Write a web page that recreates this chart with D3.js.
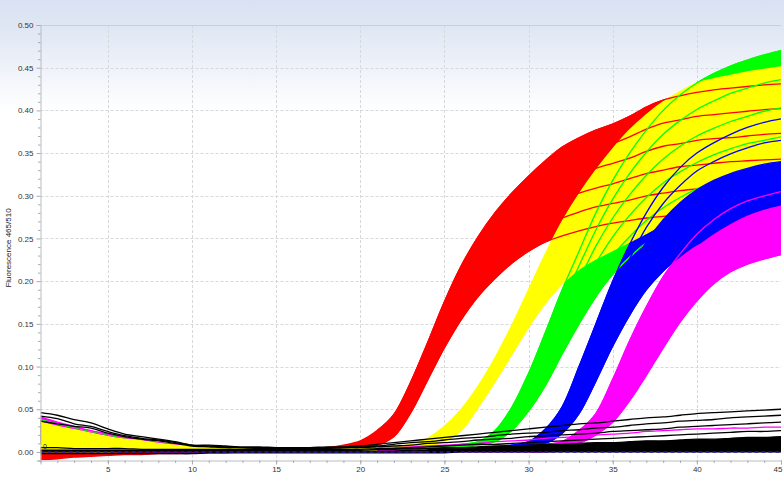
<!DOCTYPE html>
<html><head><meta charset="utf-8">
<script src="https://cdn.jsdelivr.net/npm/d3@7"></script>
<style>
body{margin:0;background:#fff}
svg{display:block}
text{font-family:"Liberation Sans",Arial,sans-serif}
</style>
</head><body>
<svg id="chart" width="784" height="478"></svg>
<script>
// ---------- data ----------
const cycles = [1,2,3,4,5,6,7,8,9,10,11,12,13,14,15,16,17,18,19,20,21,22,23,24,25,26,27,28,29,30,31,32,33,34,35,36,37,38,39,40,41,42,43,44,45];
const xTickLabels = [5,10,15,20,25,30,35,40,45];
const yTickLabels = [0,0.05,0.10,0.15,0.20,0.25,0.30,0.35,0.40,0.45,0.50];

const red1 = [.004,.004,.003,.003,.003,.003,.003,.002,.002,.002,.002,.002,.002,.002,.003,.003,.004,.005,.008,.013,.025,.044,.082,.128,.176,.218,.252,.280,.303,.323,.341,.357,.368,.377,.384,.393,.404,.412,.417,.421,.424,.426,.428,.430,.431];
const red2 = [.000,.000,.001,.001,.001,.001,.001,.002,.002,.002,.002,.002,.002,.002,.002,.003,.003,.004,.007,.011,.022,.039,.075,.118,.167,.211,.243,.269,.289,.306,.322,.336,.346,.354,.361,.369,.378,.385,.389,.393,.395,.397,.399,.401,.402];
const red3 = [-.004,-.003,-.003,-.002,-.001,-.001,-.001,.000,.000,.000,.001,.001,.001,.001,.001,.002,.003,.004,.006,.010,.018,.034,.067,.108,.157,.198,.229,.253,.272,.288,.303,.315,.324,.332,.338,.344,.352,.358,.361,.365,.367,.368,.370,.372,.373];
const red4 = [.002,.002,.002,.002,.001,.001,.001,.001,.001,.001,.001,.001,.001,.001,.001,.002,.002,.003,.005,.008,.015,.028,.060,.098,.146,.186,.214,.236,.255,.271,.284,.295,.303,.309,.314,.320,.326,.330,.334,.336,.338,.340,.341,.342,.343];
const red5 = [-.007,-.006,-.005,-.004,-.003,-.002,-.001,-.001,.000,.000,.000,.000,.001,.001,.001,.002,.002,.003,.004,.007,.011,.023,.052,.088,.136,.173,.200,.220,.238,.253,.265,.274,.281,.287,.291,.295,.300,.303,.306,.308,.310,.311,.312,.313,.314];
const red6 = [-.009,-.008,-.006,-.005,-.004,-.003,-.003,-.002,-.002,-.001,-.001,-.001,.000,.000,.000,.001,.001,.002,.003,.005,.008,.018,.046,.084,.122,.155,.182,.203,.221,.235,.246,.253,.259,.264,.268,.271,.274,.276,.278,.280,.281,.282,.283,.284,.285];

const yellow1 = [.035,.030,.026,.022,.018,.015,.013,.010,.008,.007,.006,.005,.005,.004,.004,.004,.004,.003,.003,.004,.004,.006,.009,.016,.030,.050,.077,.110,.148,.190,.232,.270,.302,.330,.355,.377,.395,.410,.422,.432,.437,.441,.445,.448,.451];
const yellow2 = [.028,.024,.021,.018,.015,.013,.011,.009,.007,.006,.005,.005,.004,.004,.004,.004,.004,.003,.003,.004,.004,.005,.008,.014,.026,.045,.073,.102,.142,.183,.225,.259,.287,.309,.331,.351,.367,.381,.393,.403,.408,.412,.416,.419,.422];
const yellow3 = [.020,.018,.015,.013,.011,.010,.008,.007,.006,.005,.005,.004,.004,.004,.004,.003,.003,.003,.003,.003,.003,.005,.007,.012,.023,.040,.068,.097,.134,.174,.215,.245,.270,.289,.307,.325,.339,.353,.364,.373,.379,.383,.387,.390,.393];
const yellow4 = [.012,.011,.010,.008,.007,.006,.006,.005,.005,.004,.004,.004,.004,.003,.003,.003,.003,.003,.003,.003,.003,.004,.006,.011,.019,.035,.062,.091,.126,.164,.204,.232,.252,.268,.284,.298,.312,.324,.335,.344,.350,.355,.359,.362,.365];
const yellow5 = [.006,.005,.005,.004,.004,.004,.003,.003,.003,.003,.002,.002,.002,.002,.002,.002,.002,.002,.002,.002,.002,.004,.005,.009,.016,.030,.057,.086,.118,.155,.194,.218,.235,.248,.260,.272,.284,.296,.306,.314,.321,.326,.330,.333,.336];
const yellow6 = [.000,.000,.000,.000,.000,.001,.001,.001,.001,.001,.001,.001,.001,.001,.001,.001,.001,.001,.001,.002,.002,.003,.004,.007,.012,.025,.052,.082,.114,.146,.174,.197,.214,.226,.236,.246,.256,.267,.277,.285,.292,.297,.301,.304,.307];

const green1 = [.038,.033,.028,.024,.020,.016,.014,.011,.009,.007,.006,.006,.005,.004,.004,.004,.004,.003,.003,.003,.003,.004,.005,.006,.007,.009,.012,.025,.052,.092,.140,.190,.235,.280,.318,.350,.377,.400,.418,.432,.443,.452,.459,.465,.470];
const green2 = [.030,.026,.022,.019,.016,.013,.011,.009,.008,.006,.005,.005,.004,.004,.004,.004,.004,.003,.003,.003,.003,.004,.005,.005,.006,.008,.011,.022,.047,.083,.128,.175,.218,.260,.296,.326,.351,.372,.388,.401,.411,.420,.426,.432,.436];
const green3 = [.026,.023,.020,.017,.014,.012,.010,.008,.007,.006,.005,.005,.004,.004,.004,.004,.004,.003,.003,.003,.003,.003,.004,.005,.006,.007,.010,.020,.041,.074,.115,.160,.201,.241,.274,.301,.324,.343,.358,.370,.379,.387,.393,.399,.403];
const green4 = [.022,.019,.017,.014,.012,.010,.009,.007,.006,.005,.005,.004,.004,.004,.004,.003,.003,.003,.003,.003,.003,.003,.004,.004,.005,.007,.010,.017,.036,.066,.103,.145,.184,.221,.252,.277,.298,.315,.328,.339,.348,.355,.361,.365,.369];
const green5 = [.018,.016,.014,.012,.010,.008,.007,.006,.005,.004,.003,.003,.003,.003,.003,.002,.002,.002,.002,.002,.002,.002,.003,.004,.005,.006,.009,.015,.030,.057,.090,.130,.167,.202,.230,.252,.271,.286,.298,.308,.316,.322,.328,.332,.336];
const green6 = [.010,.009,.008,.007,.006,.005,.004,.004,.003,.003,.003,.003,.002,.002,.002,.002,.002,.002,.002,.002,.002,.002,.003,.003,.004,.005,.008,.012,.025,.048,.078,.115,.150,.182,.208,.228,.245,.258,.268,.277,.284,.290,.295,.299,.302];

const blue1 = [.034,.029,.025,.022,.018,.015,.012,.010,.008,.007,.006,.005,.005,.004,.004,.004,.004,.003,.003,.003,.003,.003,.003,.003,.004,.004,.005,.006,.008,.012,.027,.053,.100,.150,.200,.243,.280,.310,.333,.350,.362,.372,.380,.386,.390];
const blue2 = [.028,.024,.021,.018,.015,.013,.011,.009,.007,.006,.005,.005,.004,.004,.004,.004,.004,.003,.003,.003,.003,.003,.003,.003,.004,.004,.005,.005,.007,.011,.024,.047,.089,.137,.185,.226,.263,.291,.312,.329,.340,.349,.356,.362,.365];
const blue3 = [.024,.021,.018,.016,.013,.011,.009,.008,.007,.006,.005,.005,.004,.004,.004,.003,.003,.003,.003,.003,.003,.003,.003,.003,.003,.003,.004,.005,.006,.010,.020,.041,.078,.123,.170,.210,.246,.272,.292,.307,.318,.326,.332,.337,.340];
const blue4 = [.020,.018,.015,.013,.011,.010,.008,.007,.006,.005,.005,.004,.004,.004,.004,.003,.003,.003,.003,.003,.003,.003,.003,.003,.003,.003,.004,.004,.006,.008,.017,.034,.067,.110,.154,.193,.229,.253,.271,.286,.295,.303,.309,.313,.316];
const blue5 = [.016,.014,.012,.010,.009,.007,.006,.005,.004,.004,.003,.003,.003,.003,.002,.002,.002,.002,.002,.002,.002,.002,.002,.002,.002,.002,.003,.004,.005,.007,.013,.028,.056,.096,.139,.177,.212,.234,.251,.264,.273,.280,.285,.288,.290];
const blue6 = [.012,.011,.009,.008,.007,.006,.005,.004,.004,.003,.003,.003,.002,.002,.002,.002,.002,.002,.002,.002,.002,.002,.002,.002,.002,.002,.003,.003,.004,.006,.010,.022,.045,.083,.124,.160,.190,.212,.229,.243,.251,.257,.261,.264,.266];

const magenta1 = [.041,.035,.030,.025,.021,.017,.014,.011,.009,.007,.006,.005,.004,.004,.003,.003,.003,.002,.002,.002,.002,.002,.002,.002,.002,.002,.003,.004,.005,.007,.009,.012,.025,.045,.085,.130,.170,.205,.232,.255,.272,.285,.294,.300,.305];
const magenta2 = [.036,.031,.027,.022,.018,.015,.012,.010,.008,.006,.005,.004,.004,.003,.003,.003,.003,.002,.002,.002,.002,.002,.002,.002,.002,.002,.003,.004,.004,.006,.008,.011,.022,.040,.075,.116,.154,.188,.216,.239,.254,.266,.276,.283,.288];
const magenta3 = [.030,.026,.022,.019,.015,.013,.010,.008,.007,.005,.005,.004,.003,.003,.003,.003,.003,.002,.002,.002,.002,.002,.002,.002,.002,.002,.003,.003,.004,.005,.007,.009,.019,.035,.065,.102,.138,.172,.200,.224,.240,.253,.262,.269,.273];
const magenta4 = [.025,.022,.019,.016,.013,.011,.009,.007,.006,.005,.004,.004,.003,.003,.003,.003,.003,.002,.002,.002,.002,.002,.002,.002,.002,.002,.002,.003,.003,.004,.005,.008,.016,.030,.055,.088,.122,.155,.184,.208,.225,.239,.249,.256,.261];
const magenta5 = [.018,.016,.014,.012,.010,.008,.007,.006,.005,.004,.003,.003,.003,.003,.003,.002,.002,.002,.002,.002,.002,.002,.002,.002,.002,.002,.002,.002,.003,.003,.004,.006,.013,.025,.045,.074,.106,.139,.168,.193,.211,.225,.234,.241,.246];
const magenta6 = [.010,.009,.008,.007,.006,.005,.004,.004,.003,.003,.003,.003,.002,.002,.002,.002,.002,.002,.002,.002,.002,.002,.002,.002,.002,.002,.002,.002,.002,.002,.003,.005,.010,.020,.035,.060,.090,.122,.152,.177,.197,.211,.220,.226,.231];
const magenta7 = [.003,.003,.002,.002,.001,.001,.001,.000,.000,.000,.000,.000,.000,.000,.000,.000,.000,.000,.000,.000,.000,.000,.000,.000,.000,.000,.000,.000,.000,.000,.000,.001,.001,.001,.001,.001,.001,.001,.001,.001,.001,.001,.001,.001,.001];
const magenta8 = [.008,.007,.006,.005,.004,.004,.003,.003,.003,.003,.003,.003,.003,.003,.003,.003,.003,.003,.003,.004,.004,.005,.006,.007,.008,.009,.010,.012,.013,.014,.016,.017,.018,.020,.021,.022,.024,.025,.026,.027,.027,.028,.028,.029,.029];

const black1 = [.046,.043,.038,.034,.027,.021,.018,.015,.012,.008,.008,.007,.006,.006,.005,.005,.005,.006,.006,.007,.009,.011,.013,.015,.017,.019,.021,.023,.025,.027,.029,.031,.033,.034,.036,.038,.040,.041,.043,.045,.046,.047,.048,.049,.050];
const black2 = [.042,.039,.033,.030,.024,.019,.016,.014,.011,.008,.007,.006,.005,.005,.005,.004,.004,.005,.005,.006,.007,.009,.011,.012,.014,.016,.017,.019,.021,.022,.023,.025,.026,.028,.029,.031,.033,.034,.036,.037,.038,.040,.041,.042,.043];
const black3 = [.036,.033,.030,.028,.022,.018,.015,.013,.010,.007,.006,.005,.005,.004,.004,.004,.004,.004,.005,.005,.006,.007,.008,.010,.011,.012,.014,.015,.016,.018,.019,.020,.021,.022,.024,.025,.026,.027,.029,.030,.031,.032,.033,.034,.035];
const black4 = [.005,.005,.004,.004,.004,.004,.003,.003,.003,.003,.003,.003,.003,.003,.003,.003,.003,.003,.003,.003,.004,.004,.005,.006,.007,.008,.009,.009,.010,.011,.012,.013,.014,.015,.016,.017,.018,.019,.020,.021,.022,.023,.024,.024,.025];
const black5 = [.002,.002,.002,.002,.002,.002,.002,.002,.002,.002,.002,.002,.002,.002,.002,.002,.002,.002,.002,.002,.003,.003,.004,.004,.005,.005,.006,.007,.007,.008,.009,.009,.010,.011,.011,.012,.013,.013,.014,.015,.015,.016,.017,.017,.018];
const black6 = [.001,.001,.001,.001,.001,.001,.001,.001,.001,.001,.001,.001,.001,.001,.001,.001,.001,.001,.001,.001,.001,.001,.002,.002,.003,.003,.003,.004,.004,.004,.005,.005,.006,.006,.007,.007,.008,.008,.009,.009,.010,.010,.011,.011,.012];
const black7 = [.000,.000,.000,.000,.000,.000,.000,.000,.000,.000,.000,.000,.000,.000,.000,.000,.000,.000,.000,.000,.000,.000,.000,.000,.000,.001,.001,.001,.002,.002,.002,.002,.003,.003,.003,.003,.004,.004,.004,.004,.004,.005,.005,.005,.005];
const black8 = [-.002,-.002,-.002,-.002,-.002,-.002,-.002,-.002,-.002,-.002,-.001,-.001,-.001,-.001,-.001,-.001,-.001,-.001,-.001,-.001,-.001,-.001,-.001,-.001,-.001,.000,.000,.000,.000,.000,.000,.000,.000,.000,.000,.000,.000,.000,.000,.000,.000,.000,.000,.000,.000];

// ---------- styling / grouping ----------
const COL = {red:"#ff0000", green:"#00ff00", blue:"#0000ff", magenta:"#ff00ff", yellow:"#ffff00", black:"#000000"};
const redCurves = [red1,red2,red3,red4,red5,red6];
const greenCurves = [green1,green2,green3,green4,green5,green6];
const blueCurves = [blue1,blue2,blue3,blue4,blue5,blue6];
const magentaCurves = [magenta1,magenta2,magenta3,magenta4,magenta5,magenta6];
const yellowCurves = [yellow1,yellow2,yellow3,yellow4,yellow5,yellow6];
const blackCurves = [black1,black2,black3,black4,black5,black6,black7,black8];

const W = 784, H = 478;
const svg = d3.select("#chart");
const x = d3.scaleLinear().domain([1,45]).range([40.5,781]);
const y = d3.scaleLinear().domain([-0.01,0.5]).range([460.5,25]);

// background gradient
const defs = svg.append("defs");
const grad = defs.append("linearGradient").attr("id","bg").attr("x1",0).attr("x2",0).attr("y1",0).attr("y2",1);
grad.append("stop").attr("offset","0%").attr("stop-color","#d9e2f3");
grad.append("stop").attr("offset","6%").attr("stop-color","#e0e7f4");
grad.append("stop").attr("offset","14%").attr("stop-color","#eef2f9");
grad.append("stop").attr("offset","23%").attr("stop-color","#ffffff");
grad.append("stop").attr("offset","100%").attr("stop-color","#ffffff");
svg.append("rect").attr("width",W).attr("height",H).attr("fill","url(#bg)");

defs.append("clipPath").attr("id","plot").append("rect")
  .attr("x",x(1)).attr("y",y(0.5)).attr("width",x(45)-x(1)).attr("height",y(-0.01)-y(0.5));
defs.append("clipPath").attr("id","late").append("rect")
  .attr("x",x(21)).attr("y",y(0.5)).attr("width",x(45)-x(21)).attr("height",y(-0.01)-y(0.5));

// grid
const grid = svg.append("g");
grid.selectAll("line.h").data(yTickLabels.filter(v=>v>0 && v<0.5)).join("line")
  .attr("x1",x(1)).attr("x2",x(45)).attr("y1",d=>Math.round(y(d))+0.5).attr("y2",d=>Math.round(y(d))+0.5)
  .attr("stroke","#d6d8dc").attr("stroke-dasharray","3,2");
grid.selectAll("line.v").data(xTickLabels.filter(v=>v<45)).join("line")
  .attr("y1",y(0.5)).attr("y2",y(-0.01)).attr("x1",d=>Math.round(x(d))+0.5).attr("x2",d=>Math.round(x(d))+0.5)
  .attr("stroke","#d6d8dc").attr("stroke-dasharray","3,2");
grid.append("line").attr("x1",x(1)).attr("x2",x(45)).attr("y1",Math.round(y(0.5))+0.5).attr("y2",Math.round(y(0.5))+0.5)
  .attr("stroke","#c9ced8");

const plot = svg.append("g").attr("clip-path","url(#plot)");
const smooth = d3.curveCatmullRom.alpha(0.5);
const line = d3.line().x((d,i)=>x(cycles[i])).y(d=>y(d)).curve(smooth);
const area = d3.area().x((d,i)=>x(cycles[i])).y0(d=>y(d[1])).y1(d=>y(d[0])).curve(smooth);

function drawFill(layer, top, bot, color){
  layer.append("path").datum(top.map((v,i)=>[v,bot[i]])).attr("d",area).attr("fill",color);
}
function drawLines(layer, curves, color, w){
  curves.forEach(c=>{
    layer.append("path").datum(c).attr("d",line).attr("fill","none")
      .attr("stroke",color).attr("stroke-width",w);
  });
}
const LW = 1.3;

// A) full bundles of red, green, blue and magenta wells
drawFill(plot, red1, red6, COL.red);
drawFill(plot, green1, green6, COL.green);
drawFill(plot, blue1, blue6, COL.blue);
drawFill(plot, magenta1, magenta6, COL.magenta);
drawLines(plot, redCurves, COL.red, LW);
drawLines(plot, greenCurves, COL.green, LW);
drawLines(plot, blueCurves, COL.blue, LW);
drawLines(plot, magentaCurves, COL.magenta, LW);
drawLines(plot, [magenta7], COL.magenta, LW);

// B) yellow bundle on top (dominant in the baseline)
drawFill(plot, yellow1, yellow6, COL.yellow);
drawLines(plot, yellowCurves, COL.yellow, LW);

// C) after the baseline, the other wells interleave with the yellow bundle
const late = plot.append("g").attr("clip-path","url(#late)");
drawLines(late, redCurves, COL.red, LW);
drawLines(late, greenCurves, COL.green, LW);
drawFill(late, blue3, blue6, COL.blue);
drawLines(late, blueCurves, COL.blue, LW);
drawFill(late, magenta2, magenta6, COL.magenta);
drawLines(late, magentaCurves, COL.magenta, LW);

// D) black (negative) wells
const blackArea = d3.area().defined((d,i)=>cycles[i]>=24).x((d,i)=>x(cycles[i])).y0(d=>y(d[1])).y1(d=>y(d[0])).curve(smooth);
plot.append("path").datum(black5.map((v,i)=>[v,black8[i]])).attr("d",blackArea).attr("fill",COL.black);
drawLines(plot, blackCurves, COL.black, LW);
drawLines(late, [magenta8], COL.magenta, LW);

// zero / threshold dashed line
plot.append("line").attr("x1",x(1)).attr("x2",x(45)).attr("y1",y(0)).attr("y2",y(0))
  .attr("stroke","#1c1ca8").attr("stroke-width",1.5).attr("stroke-dasharray","4,3");
svg.append("text").attr("x",x(1)+2.5).attr("y",y(0)-2.5).attr("font-size",7).attr("fill","#10107a").text("0");

// axes
svg.append("g").attr("transform",`translate(${x(1)},0)`)
  .call(d3.axisLeft(y).tickValues(yTickLabels).tickFormat(d3.format(".2f")).tickSize(4).tickPadding(3));
const minorY = y.ticks(51).filter(v=>Math.abs(v*20-Math.round(v*20))>1e-6);
svg.append("g").attr("transform",`translate(${x(1)},0)`)
  .call(d3.axisLeft(y).tickValues(minorY).tickFormat("").tickSize(2.5))
  .call(g=>g.select(".domain").remove());
svg.append("g").attr("transform",`translate(0,${y(-0.01)})`)
  .call(d3.axisBottom(x).tickValues(xTickLabels).tickFormat(d3.format("d")).tickSize(4).tickPadding(2))
  .call(g=>g.selectAll(".tick text").filter(d=>d===45).attr("dx",-3.5));
svg.append("g").attr("transform",`translate(0,${y(-0.01)})`)
  .call(d3.axisBottom(x).tickValues(cycles).tickFormat("").tickSize(2.5))
  .call(g=>g.select(".domain").remove());
svg.selectAll(".domain").attr("stroke","#b9bcc2");
svg.selectAll(".tick line").attr("stroke","#a8abb0");
svg.selectAll(".tick text").attr("font-size",8).attr("fill","#333").attr("font-family","'Liberation Sans',Arial,sans-serif");

// axis titles
svg.append("text").attr("transform","translate(11,248) rotate(-90)").attr("text-anchor","middle")
  .attr("font-size",8).attr("fill","#222").text("Fluorescence 465/510");
svg.append("text").attr("x",405).attr("y",483).attr("text-anchor","middle")
  .attr("font-size",8).attr("fill","#222").text("Cycles");
</script>
</body></html>
